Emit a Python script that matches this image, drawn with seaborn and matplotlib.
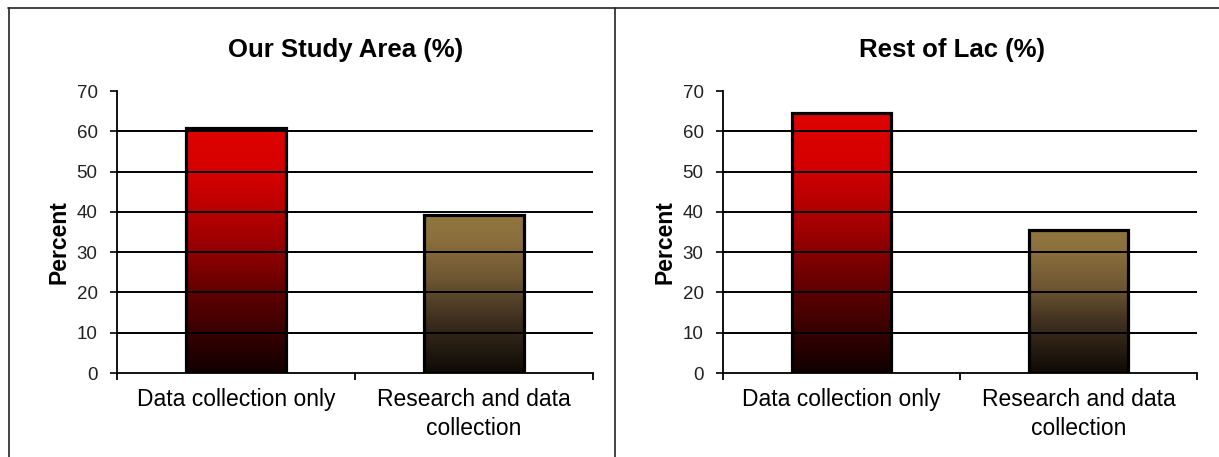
import numpy as np
import pandas as pd
import matplotlib
matplotlib.use("Agg")
import matplotlib.pyplot as plt
from matplotlib.colors import LinearSegmentedColormap
from matplotlib.lines import Line2D
import seaborn as sns

# Data
categories = ["Data collection only", "Research and data\ncollection"]
study_area = [60.8, 39.2]
rest_of_lac = [64.5, 35.5]
titles = ["Our Study Area (%)", "Rest of Lac (%)"]
yticks = [0, 10, 20, 30, 40, 50, 60, 70]

sns.set_theme(style="white")
plt.rcParams["font.family"] = ["Liberation Sans", "DejaVu Sans"]

W, H = 1219, 457
fig = plt.figure(figsize=(W / 100, H / 100), dpi=100)
fig.patch.set_facecolor("white")

# Vertical gradients for the two bars (bottom -> top)
red_cmap = LinearSegmentedColormap.from_list(
    "red_fade", [(0, "#100000"), (0.3, "#5a0000"), (0.55, "#a00000"),
                 (0.8, "#d40000"), (1, "#de0400")])
brown_cmap = LinearSegmentedColormap.from_list(
    "brown_fade", [(0, "#0e0a05"), (0.35, "#403020"), (0.6, "#6e5732"),
                   (0.85, "#8b6f3d"), (1, "#927641")])
cmaps = [red_cmap, brown_cmap]


def fx(px):
    return px / W


def fy(py):
    return 1 - py / H


def draw_panel(rect, values, title, title_x, ylabel_x):
    ax = fig.add_axes(rect)
    df = pd.DataFrame({"category": categories, "value": values})
    sns.barplot(data=df, x="category", y="value", ax=ax, width=0.42,
                color="white", edgecolor="black", linewidth=2.3, saturation=1)
    ax.set_xlim(-0.5, 1.5)
    ax.set_ylim(0, 70)

    # gradient fill clipped to each bar
    grad = np.linspace(0, 1, 256).reshape(-1, 1)
    for patch, cmap in zip(ax.patches, cmaps):
        x0, y0 = patch.get_x(), patch.get_y()
        w, h = patch.get_width(), patch.get_height()
        im = ax.imshow(grad, cmap=cmap, origin="lower", aspect="auto",
                       extent=[x0, x0 + w, y0, y0 + h], zorder=patch.get_zorder() - 0.1)
        im.set_clip_path(patch)
        patch.set_facecolor("none")
        patch.set_zorder(3)
    ax.set_xlim(-0.5, 1.5)
    ax.set_ylim(0, 70)

    # horizontal gridlines
    ax.set_yticks(yticks)
    for v in yticks[1:-1]:
        ax.axhline(v, color="black", lw=1.4, zorder=1)
    ax.grid(False)

    for s in ["top", "right"]:
        ax.spines[s].set_visible(False)
    for s in ["left", "bottom"]:
        ax.spines[s].set_color("black")
        ax.spines[s].set_linewidth(1.3)

    ax.tick_params(axis="y", which="major", direction="out", length=5, width=1.2,
                   color="black", labelsize=13.5, labelcolor="#222222", pad=9, left=True)
    ax.set_xticks([0, 1])
    ax.set_xticklabels(categories, fontsize=16.5, color="black", linespacing=1.3)
    ax.tick_params(axis="x", which="major", length=0, pad=11)
    ax.set_xticks([-0.5, 0.5, 1.5], minor=True)
    ax.tick_params(axis="x", which="minor", direction="out", length=5, width=1.3,
                   color="black", bottom=True)
    ax.set_xlabel("")
    ax.set_ylabel("")

    fig.text(fx(title_x), fy(50), title, ha="center", va="center",
             fontsize=18.5, fontweight="bold", color="black")
    fig.text(fx(ylabel_x), fy(242), "Percent", ha="center", va="center",
             rotation=90, fontsize=16.5, fontweight="bold", color="black")
    return ax


bottom = fy(373)
height = fy(91) - fy(373)
draw_panel([fx(117), bottom, fx(593) - fx(117), height], study_area, titles[0], 346, 59)
draw_panel([fx(723), bottom, fx(1197) - fx(723), height], rest_of_lac, titles[1], 952, 665)

# panel frames
for line in [
    Line2D([fx(8), 1], [fy(7.5), fy(7.5)]),
    Line2D([fx(8.5), fx(8.5)], [0, fy(7.5)]),
    Line2D([fx(614.5), fx(614.5)], [0, fy(7.5)]),
]:
    line.set_color("#222222")
    line.set_linewidth(1.2)
    fig.add_artist(line)

fig.savefig("out.png", dpi=100, facecolor="white")
